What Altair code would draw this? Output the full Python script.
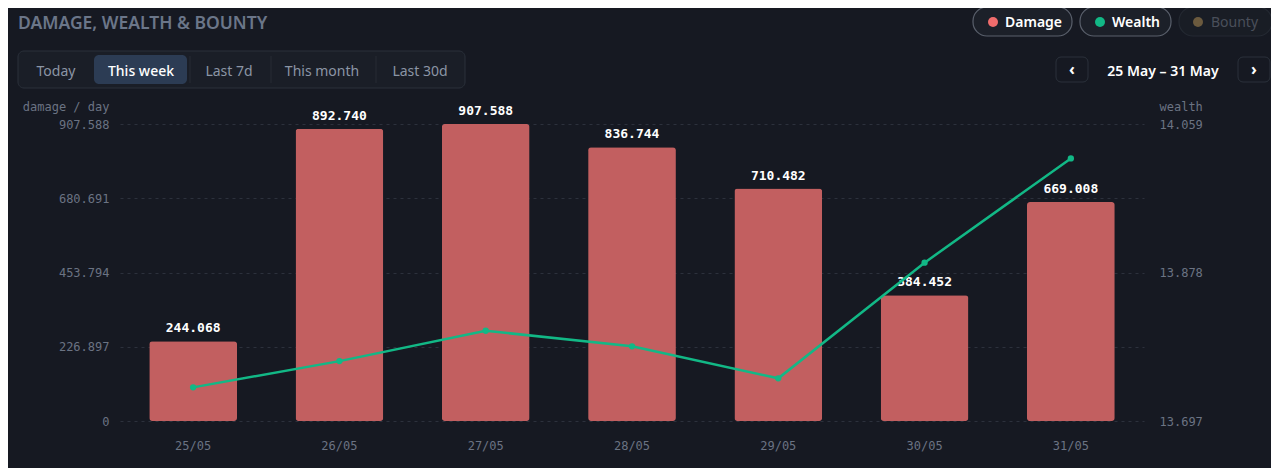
import altair as alt
import pandas as pd

# ---------------- data ----------------
dates = ["25/05", "26/05", "27/05", "28/05", "29/05", "30/05", "31/05"]
damage = [244.068, 892.740, 907.588, 836.744, 710.482, 384.452, 669.008]
wealth = [13.738, 13.770, 13.807, 13.788, 13.749, 13.890, 14.017]
damage_ticks = [0, 226.897, 453.794, 680.691, 907.588]
wealth_ticks = [13.697, 13.878, 14.059]
ranges = ["Today", "This week", "Last 7d", "This month", "Last 30d"]
series = ["Damage", "Wealth", "Bounty"]
date_range = "25 May \u2013 31 May"
title_text = "DAMAGE, WEALTH & BOUNTY"

df = pd.DataFrame({"date": dates, "damage": damage, "wealth": wealth})
one = pd.DataFrame({"k": [1]})

# ---------------- styles ----------------
BG = "#161922"
MONO = "DejaVu Sans Mono"
UI = "Noto Sans"
GRAY = "#6b7383"
BAR = "#c25f60"
GREEN = "#12b886"
RED_DOT = "#f06c6c"
BOUNTY_DOT = "#6b5a3e"

x_enc = alt.X(
    "date:N", sort=dates,
    scale=alt.Scale(paddingInner=0.4, paddingOuter=0.2),
    axis=alt.Axis(title=None, labelAngle=0, labelFont=MONO, labelFontSize=12,
                  labelColor=GRAY, labelPadding=19, ticks=False, domain=False, grid=False),
)

y_dmg = alt.Y(
    "damage:Q",
    scale=alt.Scale(domain=[0, 907.588], nice=False, zero=True),
    axis=alt.Axis(
        orient="left", values=damage_ticks,
        labelExpr="datum.value == 0 ? '0' : format(datum.value, '.3f')",
        title="damage / day", titleAngle=0, titleX=-11, titleY=-18,
        titleAlign="right", titleBaseline="middle", titleFont=MONO,
        titleFontSize=12, titleFontWeight="normal", titleColor=GRAY,
        labelFont=MONO, labelFontSize=12, labelColor=GRAY, labelPadding=11,
        ticks=False, domain=False, grid=True, gridColor="#2c313c",
        gridDash=[3, 4], gridWidth=1,
    ),
)

bars = alt.Chart(df).mark_bar(color=BAR, cornerRadius=3).encode(x=x_enc, y=y_dmg)
labels = alt.Chart(df).mark_text(
    dy=-6, baseline="bottom", font=MONO, fontSize=13, fontWeight="bold", color="#ffffff"
).encode(x=x_enc, y=y_dmg, text=alt.Text("damage:Q", format=".3f"))

dmg_layer = alt.layer(bars, labels)

line = alt.Chart(df).mark_line(
    color=GREEN, strokeWidth=2.5,
    point=alt.OverlayMarkDef(filled=True, size=40, color=GREEN),
).encode(
    x=x_enc,
    y=alt.Y(
        "wealth:Q",
        scale=alt.Scale(domain=[13.697, 14.059], nice=False, zero=False),
        axis=alt.Axis(
            orient="right", values=wealth_ticks, format=".3f",
            title="wealth", titleAngle=0, titleX=15, titleY=-18,
            titleAlign="left", titleBaseline="middle", titleFont=MONO,
            titleFontSize=12, titleFontWeight="normal", titleColor=GRAY,
            labelFont=MONO, labelFontSize=12, labelColor=GRAY, labelPadding=15,
            ticks=False, domain=False, grid=False,
        ),
    ),
)


# ---------------- header UI helpers ----------------
def rect(x1, x2, y1, y2, fill, stroke=None, r=0, sw=1.0):
    kw = dict(fill=fill, cornerRadius=r)
    if stroke is not None:
        kw.update(stroke=stroke, strokeWidth=sw)
    return alt.Chart(one).mark_rect(**kw).encode(
        x=alt.value(x1), x2=alt.value(x2), y=alt.value(y1), y2=alt.value(y2)
    )


def text(s, x, y, size=14, color="#ffffff", weight="normal", align="left",
         baseline="alphabetic", font=UI):
    return alt.Chart(one).mark_text(
        text=s, align=align, baseline=baseline, font=font, fontSize=size,
        fontWeight=weight, color=color,
    ).encode(x=alt.value(x), y=alt.value(y))


def dot(x, y, color, size=100):
    return alt.Chart(one).mark_point(filled=True, opacity=1, size=size, color=color,
                                     shape="circle").encode(x=alt.value(x), y=alt.value(y))


def vline(x, y1, y2, color):
    return alt.Chart(one).mark_rule(color=color, strokeWidth=1).encode(
        x=alt.value(x), y=alt.value(y1), y2=alt.value(y2)
    )


ui = []
# title
ui.append(text(title_text, -102, -95, size=17.5, color="#6b7689", weight=600))

# segmented control
ui.append(rect(-102, 345, -73, -36, "#1a1e27", "#2b313b", 6))
ui.append(rect(-26, 67, -69, -40, "#2c3c54", None, 5))
for xd in [70, 151, 256]:
    ui.append(vline(xd, -68, -41, "#262b35"))
range_cx = [-64, 21, 109, 202, 300]
for lab, cx in zip(ranges, range_cx):
    active = lab == "This week"
    ui.append(text(lab, cx, -48.5, size=14, color="#ffffff" if active else "#8b95a5",
                   weight=500 if active else "normal", align="center"))

# legend pills
pill_x = [(853, 952), (960, 1051), (1059, 1152)]
dot_x = [873, 980, 1078]
txt_x = [885, 992, 1091]
dot_cols = [RED_DOT, GREEN, BOUNTY_DOT]
for i, name in enumerate(series):
    faded = name == "Bounty"
    ui.append(rect(pill_x[i][0], pill_x[i][1], -117, -88,
                   "#191d25" if faded else "#1c2029",
                   "#242932" if faded else "#5a606c", 14, 1.2))
    ui.append(dot(dot_x[i], -102, dot_cols[i]))
    ui.append(text(name, txt_x[i], -97, size=14,
                   color="#4a4f5a" if faded else "#ffffff",
                   weight="normal" if faded else 600))

# date navigator
ui.append(rect(936, 968, -67, -42, BG, "#2b313b", 5))
ui.append(rect(1118, 1150, -67, -42, BG, "#2b313b", 5))
ui.append(text("\u2039", 952, -54, size=16, color="#ffffff", weight="bold",
               align="center", baseline="middle"))
ui.append(text("\u203a", 1134, -54, size=16, color="#ffffff", weight="bold",
               align="center", baseline="middle"))
ui.append(text(date_range, 1043, -48.5, size=14, color="#ffffff", weight=600,
               align="center"))

chart = alt.layer(dmg_layer, line, *ui).resolve_scale(y="independent").properties(
    width=1024, height=297,
    padding={"left": 112, "top": 116, "right": 127, "bottom": 47},
    autosize=alt.AutoSizeParams(type="none"),
    background=BG,
).configure_view(stroke=None)

chart.save("out.html", embed_options={"renderer": "svg", "actions": False})
